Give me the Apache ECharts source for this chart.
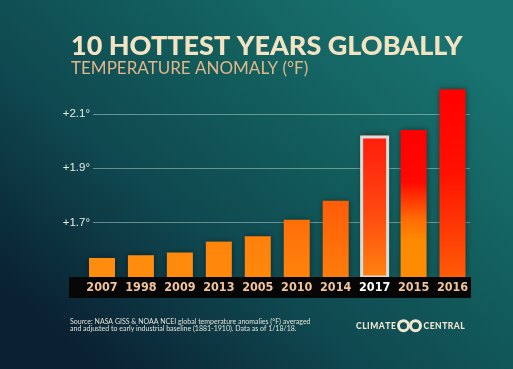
<!DOCTYPE html>
<html>
<head>
<meta charset="utf-8">
<script src="https://cdn.jsdelivr.net/npm/echarts@6/dist/echarts.min.js"></script>
<style>html,body{margin:0;padding:0;background:#0d3c45;}#c{width:513px;height:369px;}</style>
</head>
<body>
<div id="c"></div>
<script>
// ---- data ----
const years = ['2007','1998','2009','2013','2005','2010','2014','2017','2015','2016'];
const anomalies = [1.57, 1.58, 1.59, 1.63, 1.65, 1.71, 1.78, 2.02, 2.04, 2.19];
const highlightYear = '2017';
const tickLabelValues = [1.7, 1.9, 2.1];
const titleText = '10 HOTTEST YEARS GLOBALLY';
const subtitleText = 'TEMPERATURE ANOMALY (°F)';
const sourceText = 'Source: NASA GISS & NOAA NCEI global temperature anomalies (°F) averaged\nand adjusted to early industrial baseline (1881-1910). Data as of 1/18/18.';
const logoLeft = 'CLIMATE';
const logoRight = 'CENTRAL';

// ---- styles ----
const barStops = [
  [[0,'#ff8d0d'],[1,'#ff8d0d']],
  [[0,'#ff8c0c'],[1,'#ff8c0c']],
  [[0,'#ff890b'],[1,'#ff8b0c']],
  [[0,'#ff850a'],[1,'#ff890b']],
  [[0,'#ff800a'],[1,'#ff880b']],
  [[0,'#ff6e08'],[1,'#ff830b']],
  [[0,'#ff5c08'],[1,'#ff7c0b']],
  [[0,'#ff1c0c'],[0.5,'#ff4410'],[1,'#ff8210']],
  [[0,'#ff0000'],[0.35,'#ff0800'],[0.6,'#ff6a05'],[0.75,'#ff8a00'],[1,'#ff8c00']],
  [[0,'#ff0000'],[0.45,'#ff1200'],[1,'#ff5c08']]
];
function grad(stops){
  return new echarts.graphic.LinearGradient(0,0,0,1, stops.map(s=>({offset:s[0],color:s[1]})));
}
const spaced = s => s.split('').join('\u200A');
const cream = '#f1e6cf';

const chart = echarts.init(document.getElementById('c'), null, {renderer:'canvas'});
const yMin = 1.5;
const option = {
  backgroundColor: {
    type:'linear', x:0.8, y:0, x2:0.2, y2:1,
    colorStops:[{offset:0,color:'#187370'},{offset:0.35,color:'#125d5c'},{offset:0.65,color:'#0f4850'},{offset:1,color:'#0a2132'}]
  },
  animation:false,
  title:{
    text:titleText, subtext:subtitleText,
    left:66, top:28, itemGap:0,
    textStyle:{fontFamily:'Lato', fontWeight:900, fontSize:27, color:'#f4e3c3'},
    subtextStyle:{fontFamily:'Lato', fontWeight:'normal', fontSize:17, color:'#e0b68b'}
  },
  grid:[
    {left:93, right:43, top:113.8, bottom:92},
    {left:82.5, right:41, top:86.5, bottom:92}
  ],
  xAxis:[
    {type:'category', gridIndex:0, data:years, show:false},
    {type:'category', gridIndex:1, data:years, z:150,
     axisLine:{show:false}, axisTick:{show:false},
     axisLabel:{interval:0, margin:4, fontFamily:'DejaVu Sans Condensed', fontWeight:'bold', fontSize:12.5,
       color:(v)=> v===highlightYear ? '#ffffff' : '#f1c39c'}},
    {type:'category', gridIndex:1, data:years, show:false}
  ],
  yAxis:[
    {type:'value', gridIndex:0, min:yMin, max:2.1, interval:0.2,
     axisLine:{show:false}, axisTick:{show:false},
     splitLine:{lineStyle:{color:'rgba(190,215,205,0.5)', width:1}},
     axisLabel:{margin:3, showMinLabel:false, fontFamily:'Liberation Sans', fontSize:11.5, color:'#e9ebe4',
       formatter:(v)=> tickLabelValues.some(t=>Math.abs(t-v)<1e-6) ? '+'+v.toFixed(1)+'°' : ''}},
    {type:'value', gridIndex:1, min:yMin, max:2.2, show:false, splitLine:{show:false}},
  ],
  series:[
    {type:'bar', xAxisIndex:1, yAxisIndex:1, barWidth:26,
     data: anomalies.map((v,i)=>({value:v, itemStyle:{color:grad(barStops[i])}})),
     itemStyle:{shadowBlur:6, shadowColor:'rgba(0,0,0,0.45)'}},
    {type:'bar', xAxisIndex:2, yAxisIndex:1, barWidth:29, z:3,
     data: anomalies.map((v,i)=> years[i]===highlightYear ? v : '-'),
     itemStyle:{color:'rgba(0,0,0,0)', borderColor:'#dcdcd8', borderWidth:3}}
  ],
  graphic:[
    {type:'rect', z:100, shape:{x:69, y:277, width:402, height:21}, style:{fill:'#060606'}},
    {type:'text', z:100, left:70, top:318.5, style:{text:sourceText, fontFamily:'Lato', fontSize:7, lineHeight:6.8, fill:'#e4e2d8'}},
    {type:'text', z:100, left:356, top:321.5, style:{text:spaced(logoLeft), fontFamily:'Lato', fontWeight:900, fontSize:8.5, fill:cream}},
    {type:'text', z:100, left:423.5, top:321.5, style:{text:spaced(logoRight), fontFamily:'Lato', fontWeight:900, fontSize:8.5, fill:cream}},
    {type:'circle', z:100, shape:{cx:403.5, cy:325.7, r:5}, style:{fill:'none', stroke:cream, lineWidth:3}},
    {type:'circle', z:100, shape:{cx:415.5, cy:325.7, r:5}, style:{fill:'none', stroke:cream, lineWidth:3}}
  ]
};
chart.setOption(option);
</script>
</body>
</html>
